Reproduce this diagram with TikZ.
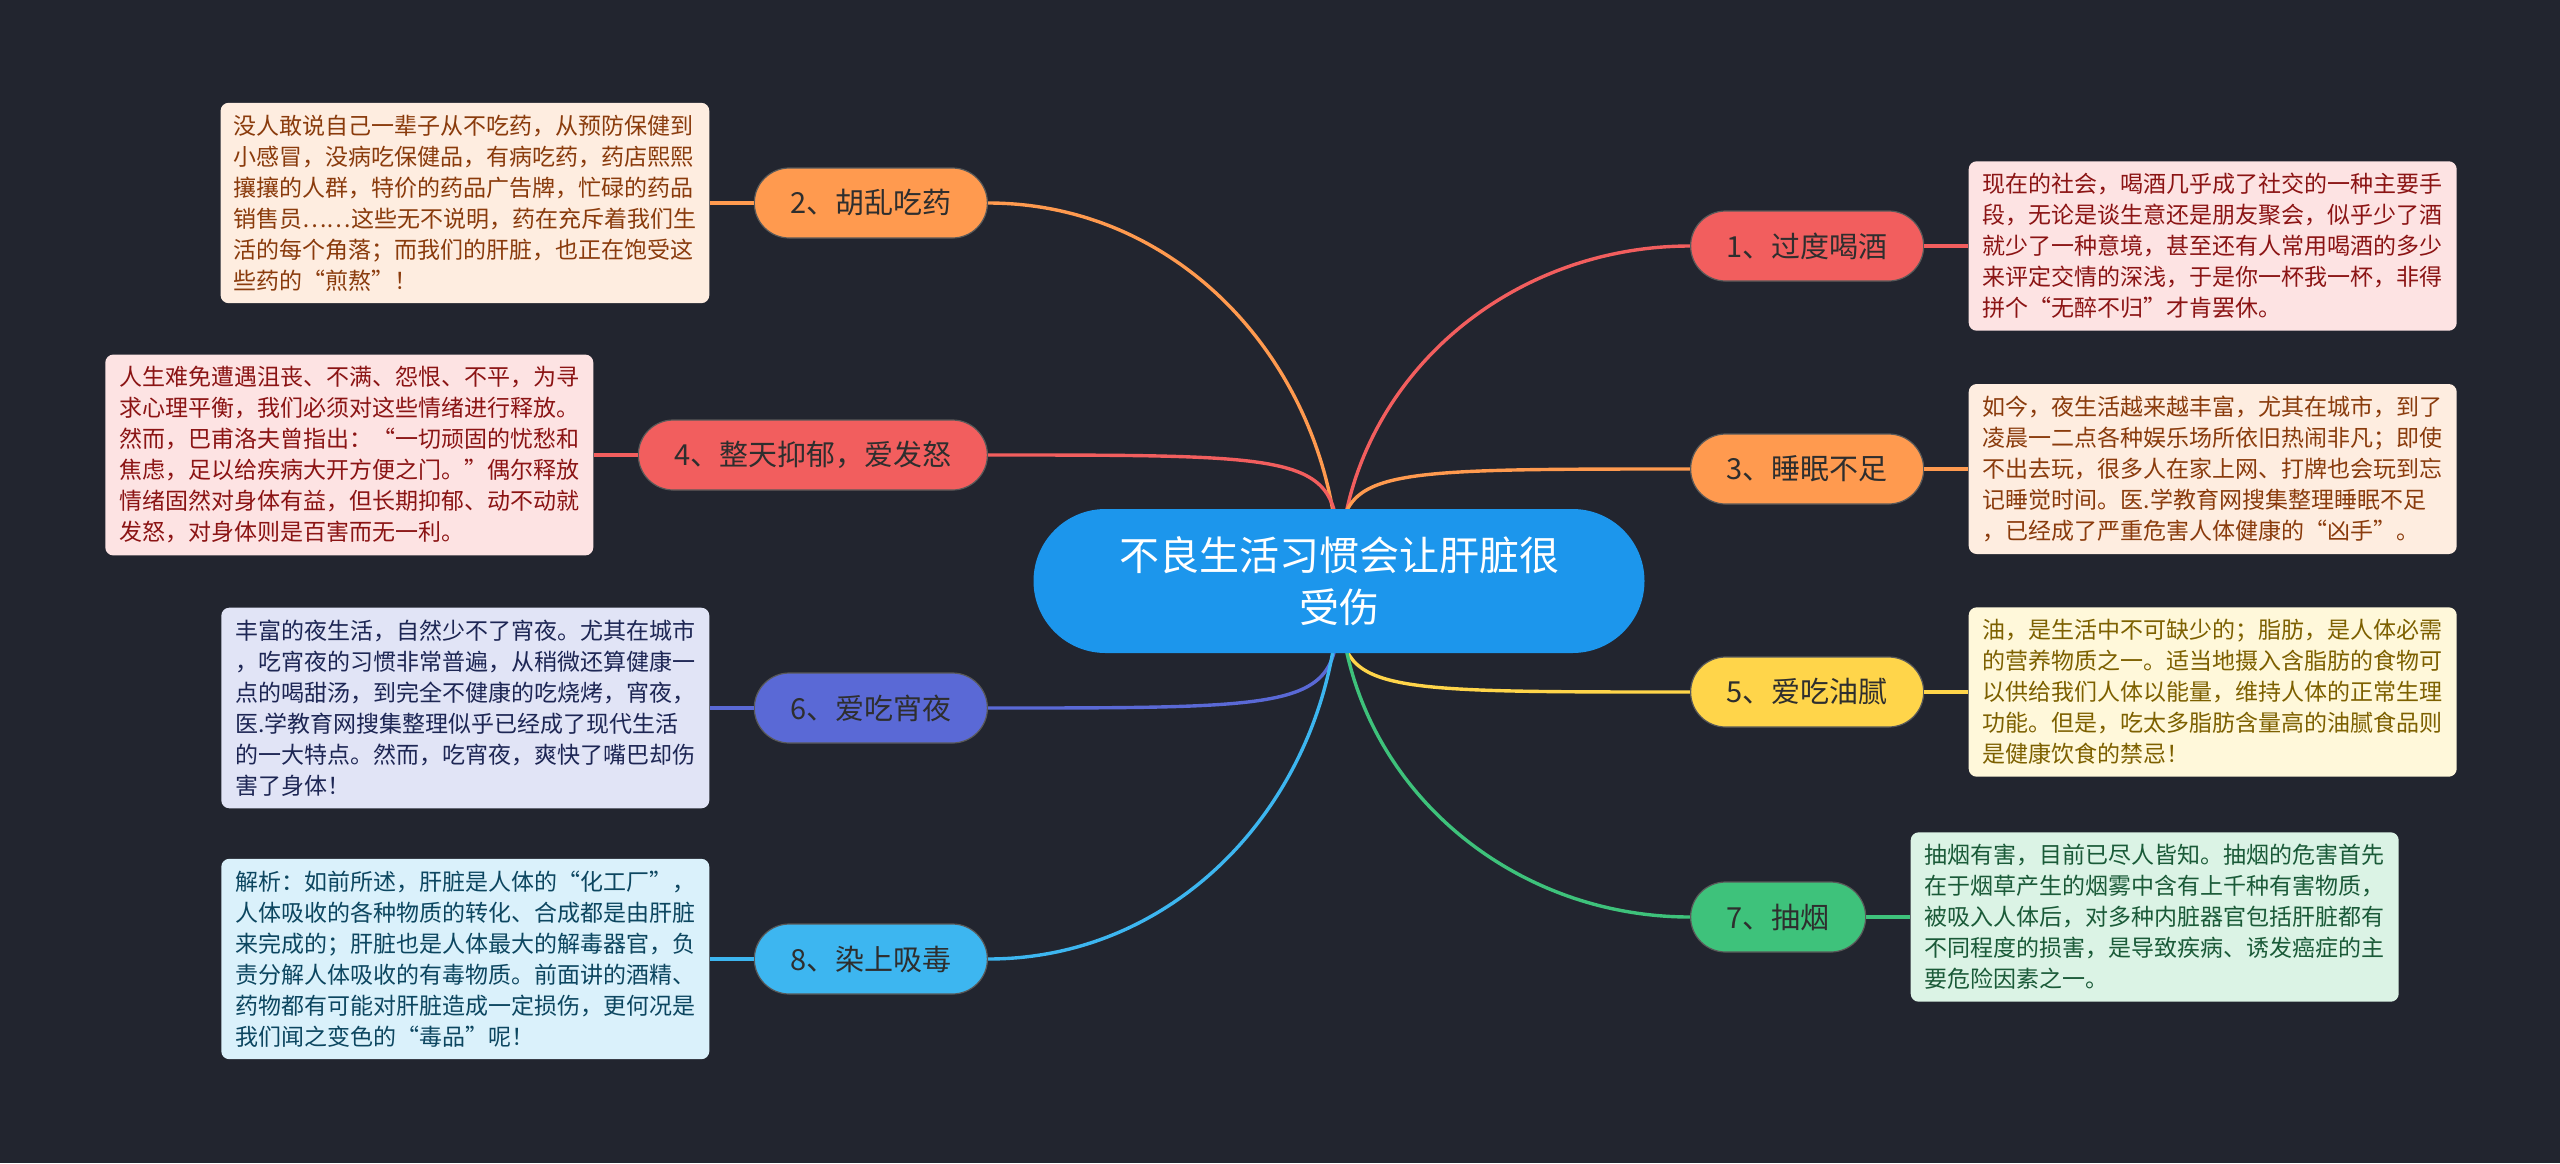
\documentclass[tikz,border=0pt]{standalone}
\usepackage{fontspec}
\usepackage{xcolor}
\usepackage{tikz}
\usetikzlibrary{positioning,backgrounds}
\newfontfamily\cjk{Noto Sans CJK SC}
\definecolor{bgdark}{HTML}{22252F}
\definecolor{rootblue}{HTML}{1C96EC}
\definecolor{cred}{HTML}{F25E5E}
\definecolor{corange}{HTML}{FF9A4F}
\definecolor{cyellow}{HTML}{FFD54A}
\definecolor{cviolet}{HTML}{5A69D6}
\definecolor{cgreen}{HTML}{3EC27B}
\definecolor{ccyan}{HTML}{3DB6F0}
\definecolor{fillred}{HTML}{FDE3E3}
\definecolor{inkred}{HTML}{8B1414}
\definecolor{fillorange}{HTML}{FEEDE0}
\definecolor{inkorange}{HTML}{8A3B0C}
\definecolor{fillyellow}{HTML}{FFF8DA}
\definecolor{inkyellow}{HTML}{7D6000}
\definecolor{fillviolet}{HTML}{E1E4F6}
\definecolor{inkviolet}{HTML}{1D2654}
\definecolor{fillgreen}{HTML}{DBF3E5}
\definecolor{inkgreen}{HTML}{1A5A38}
\definecolor{fillcyan}{HTML}{DAF1FB}
\definecolor{inkcyan}{HTML}{0C4660}

\begin{document}
\begin{tikzpicture}[
  x=0.5pt, y=0.5pt,
  node distance=22pt,
  root/.style={rounded corners=36pt, fill=rootblue, minimum width=305.5pt, minimum height=72pt,
               align=center, text=white, font=\cjk\fontsize{20pt}{26pt}\selectfont},
  branch/.style={rounded corners=17.5pt, fill=#1, draw=black!65, line width=0.6pt,
                 minimum height=35pt, inner xsep=18pt, text=black!82,
                 font=\cjk\fontsize{14.5pt}{17pt}\selectfont},
  note/.style 2 args={rounded corners=4pt, fill=#1, text=#2, minimum width=244pt,
                      inner xsep=6.5pt, inner ysep=6pt, align=left,
                      font=\cjk\fontsize{11.5pt}{15.5pt}\selectfont},
  link/.style={draw=#1, line width=1.7pt}
]
\node[root] (root) at (1339,-581) {不良生活习惯会让肝脏很\\受伤};

\node[branch=cred, anchor=west]    (b1) at (1690,-246) {1、过度喝酒};
\node[branch=corange, anchor=west] (b3) at (1690,-469) {3、睡眠不足};
\node[branch=cyellow, anchor=west] (b5) at (1690,-692) {5、爱吃油腻};
\node[branch=cgreen, anchor=west]  (b7) at (1690,-917) {7、抽烟};
\node[branch=corange, anchor=east] (b2) at (988,-203) {2、胡乱吃药};
\node[branch=cred, anchor=east]    (b4) at (988,-455) {4、整天抑郁，爱发怒};
\node[branch=cviolet, anchor=east] (b6) at (988,-708) {6、爱吃宵夜};
\node[branch=ccyan, anchor=east]   (b8) at (988,-959) {8、染上吸毒};

\node[note={fillred}{inkred}, right=of b1] (n1) {现在的社会，喝酒几乎成了社交的一种主要手\\
段，无论是谈生意还是朋友聚会，似乎少了酒\\
就少了一种意境，甚至还有人常用喝酒的多少\\
来评定交情的深浅，于是你一杯我一杯，非得\\
拼个“无醉不归”才肯罢休。};
\node[note={fillorange}{inkorange}, right=of b3] (n3) {如今，夜生活越来越丰富，尤其在城市，到了\\
凌晨一二点各种娱乐场所依旧热闹非凡；即使\\
不出去玩，很多人在家上网、打牌也会玩到忘\\
记睡觉时间。医.学教育网搜集整理睡眠不足\\
，已经成了严重危害人体健康的“凶手”。};
\node[note={fillyellow}{inkyellow}, right=of b5] (n5) {油，是生活中不可缺少的；脂肪，是人体必需\\
的营养物质之一。适当地摄入含脂肪的食物可\\
以供给我们人体以能量，维持人体的正常生理\\
功能。但是，吃太多脂肪含量高的油腻食品则\\
是健康饮食的禁忌！};
\node[note={fillgreen}{inkgreen}, right=of b7] (n7) {抽烟有害，目前已尽人皆知。抽烟的危害首先\\
在于烟草产生的烟雾中含有上千种有害物质，\\
被吸入人体后，对多种内脏器官包括肝脏都有\\
不同程度的损害，是导致疾病、诱发癌症的主\\
要危险因素之一。};
\node[note={fillorange}{inkorange}, left=of b2] (n2) {没人敢说自己一辈子从不吃药，从预防保健到\\
小感冒，没病吃保健品，有病吃药，药店熙熙\\
攘攘的人群，特价的药品广告牌，忙碌的药品\\
销售员……这些无不说明，药在充斥着我们生\\
活的每个角落；而我们的肝脏，也正在饱受这\\
些药的“煎熬”！};
\node[note={fillred}{inkred}, left=of b4] (n4) {人生难免遭遇沮丧、不满、怨恨、不平，为寻\\
求心理平衡，我们必须对这些情绪进行释放。\\
然而，巴甫洛夫曾指出：“一切顽固的忧愁和\\
焦虑，足以给疾病大开方便之门。”偶尔释放\\
情绪固然对身体有益，但长期抑郁、动不动就\\
发怒，对身体则是百害而无一利。};
\node[note={fillviolet}{inkviolet}, left=of b6] (n6) {丰富的夜生活，自然少不了宵夜。尤其在城市\\
，吃宵夜的习惯非常普遍，从稍微还算健康一\\
点的喝甜汤，到完全不健康的吃烧烤，宵夜，\\
医.学教育网搜集整理似乎已经成了现代生活\\
的一大特点。然而，吃宵夜，爽快了嘴巴却伤\\
害了身体！};
\node[note={fillcyan}{inkcyan}, left=of b8] (n8) {解析：如前所述，肝脏是人体的“化工厂”，\\
人体吸收的各种物质的转化、合成都是由肝脏\\
来完成的；肝脏也是人体最大的解毒器官，负\\
责分解人体吸收的有毒物质。前面讲的酒精、\\
药物都有可能对肝脏造成一定损伤，更何况是\\
我们闻之变色的“毒品”呢！};

\begin{scope}[on background layer]
\fill[bgdark] (0,0) rectangle (2560,-1163);
\draw[link=cred] (root.center) to[out=90,in=180] (b1.west);
\draw[link=corange] (root.center) .. controls (root.center |- b3.west) .. (b3.west);
\draw[link=cyellow] (root.center) .. controls (root.center |- b5.west) .. (b5.west);
\draw[link=cgreen] (root.center) to[out=-90,in=180] (b7.west);
\draw[link=corange] (root.center) to[out=90,in=0] (b2.east);
\draw[link=cred] (root.center) .. controls (root.center |- b4.east) .. (b4.east);
\draw[link=cviolet] (root.center) .. controls (root.center |- b6.east) .. (b6.east);
\draw[link=ccyan] (root.center) to[out=-90,in=0] (b8.east);
\end{scope}

\draw[link=cred] (b1) -- (n1);
\draw[link=corange] (b3) -- (n3);
\draw[link=cyellow] (b5) -- (n5);
\draw[link=cgreen] (b7) -- (n7);
\draw[link=corange] (b2) -- (n2);
\draw[link=cred] (b4) -- (n4);
\draw[link=cviolet] (b6) -- (n6);
\draw[link=ccyan] (b8) -- (n8);
\end{tikzpicture}
\end{document}
